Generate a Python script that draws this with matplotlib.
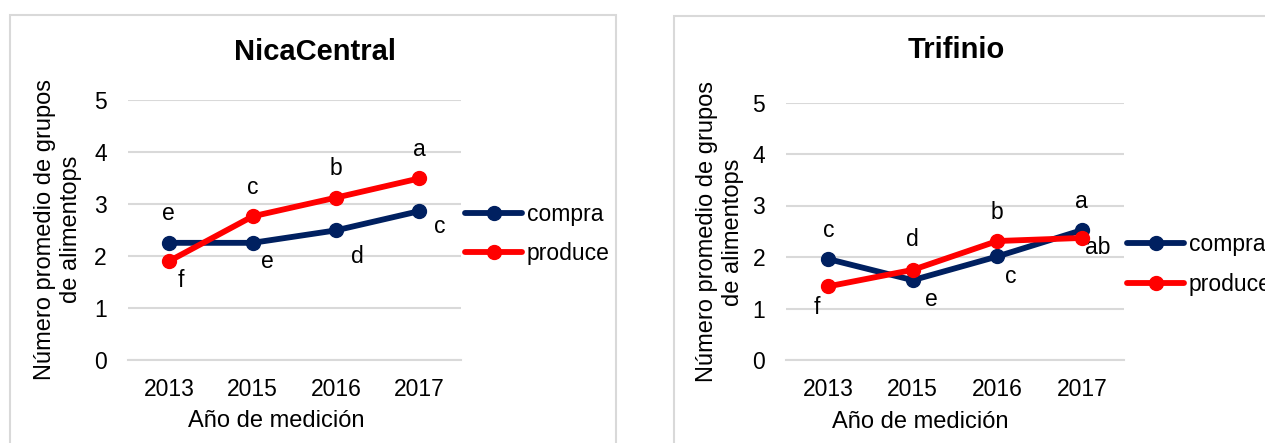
import matplotlib
matplotlib.use("Agg")
import matplotlib.pyplot as plt
from matplotlib.patches import Rectangle

plt.rcParams['font.family'] = ['Liberation Sans', 'DejaVu Sans']

# Datos por región
anios = ["2013", "2015", "2016", "2017"]

nica_compra = [2.25, 2.25, 2.49, 2.86]
nica_produce = [1.90, 2.76, 3.12, 3.49]
nica_letras_compra = ["e", "e", "d", "c"]
nica_letras_produce = ["f", "c", "b", "a"]

tri_compra = [1.96, 1.55, 2.01, 2.52]
tri_produce = [1.43, 1.75, 2.31, 2.37]
tri_letras_compra = ["c", "e", "c", "a"]
tri_letras_produce = ["f", "d", "b", "ab"]

AZUL = "#002060"
ROJO = "#FF0000"
GRIS = "#D9D9D9"

W, H = 1265, 443
fig = plt.figure(figsize=(W / 100, H / 100), dpi=100)


def px(x, y):
    return x / W, 1 - y / H


def panel(x0, x1, y_top, y_bot, x_borde, y_borde, titulo, tit_xy, xlab_xy, ylab_xy,
          leg_xy, compra, produce, let_c, let_p, off_c, off_p):
    fig.patches.append(Rectangle(px(x_borde[0], 460), (x_borde[1] - x_borde[0]) / W,
                                 (460 - y_borde) / H, transform=fig.transFigure,
                                 fill=False, edgecolor=GRIS, linewidth=1.5))
    l, b = px(x0, y_bot)
    ax = fig.add_axes([l, b, (x1 - x0) / W, (y_bot - y_top) / H])
    pos = range(len(anios))
    ax.plot(pos, compra, color=AZUL, lw=4.2, marker="o", ms=10, label="compra",
            solid_capstyle="round", zorder=3)
    ax.plot(pos, produce, color=ROJO, lw=4.2, marker="o", ms=10, label="produce",
            solid_capstyle="round", zorder=4)
    ax.set_xlim(-0.5, len(anios) - 0.5)
    ax.set_ylim(0, 5)
    ax.set_xticks(list(pos))
    ax.set_xticklabels(anios)
    ax.set_yticks(range(6))
    ax.tick_params(length=0, labelsize=16.5, colors="black")
    ax.tick_params(axis="y", pad=15)
    ax.tick_params(axis="x", pad=13)
    ax.grid(axis="y", color=GRIS, lw=1.5)
    ax.set_axisbelow(True)
    for s in ax.spines.values():
        s.set_visible(False)
    ax.spines["bottom"].set_visible(True)
    ax.spines["bottom"].set_color(GRIS)
    ax.spines["bottom"].set_linewidth(1.5)
    ax.patch.set_alpha(0)

    # letras de significancia
    for i in pos:
        ax.annotate(let_c[i], (i, compra[i]), xytext=off_c[i], textcoords="offset pixels",
                    ha="center", va="center", fontsize=16.5)
        ax.annotate(let_p[i], (i, produce[i]), xytext=off_p[i], textcoords="offset pixels",
                    ha="center", va="center", fontsize=16.5)

    fig.text(*px(*tit_xy), titulo, ha="center", va="baseline", fontsize=21,
             fontweight="bold")
    fig.text(*px(*xlab_xy), "Año de medición", ha="center", va="baseline", fontsize=17)
    fig.text(*px(*ylab_xy), "Número promedio de grupos\nde alimentops", rotation=90,
             ha="center", va="center", fontsize=17, linespacing=1.25,
             multialignment="center")
    ax.legend(loc="center left", bbox_to_anchor=px(*leg_xy),
              bbox_transform=fig.transFigure, frameon=False, fontsize=16.5,
              handlelength=2.5, handletextpad=0.2, labelspacing=0.7,
              borderpad=0, borderaxespad=0)
    return ax


panel(127.7, 460.9, 100, 359.7, (10, 616), 15, "NicaCentral", (314.5, 59.5),
      (276, 426.7), (58, 229), (465, 234),
      nica_compra, nica_produce, nica_letras_compra, nica_letras_produce,
      [(-1, 29), (15, -19), (21, -26), (20, -15)],
      [(12, -19), (0, 29), (0, 29), (0, 29)])

panel(786, 1124, 102.5, 360, (674, 1300), 16, "Trifinio", (956.5, 57.5),
      (920, 428), (720, 232), (1127, 264.5),
      tri_compra, tri_produce, tri_letras_compra, tri_letras_produce,
      [(0, 29), (19, -19), (14, -20), (0, 29)],
      [(-11, -21), (0, 30), (0, 29), (16, -10)])

fig.savefig("out.png", dpi=100)
